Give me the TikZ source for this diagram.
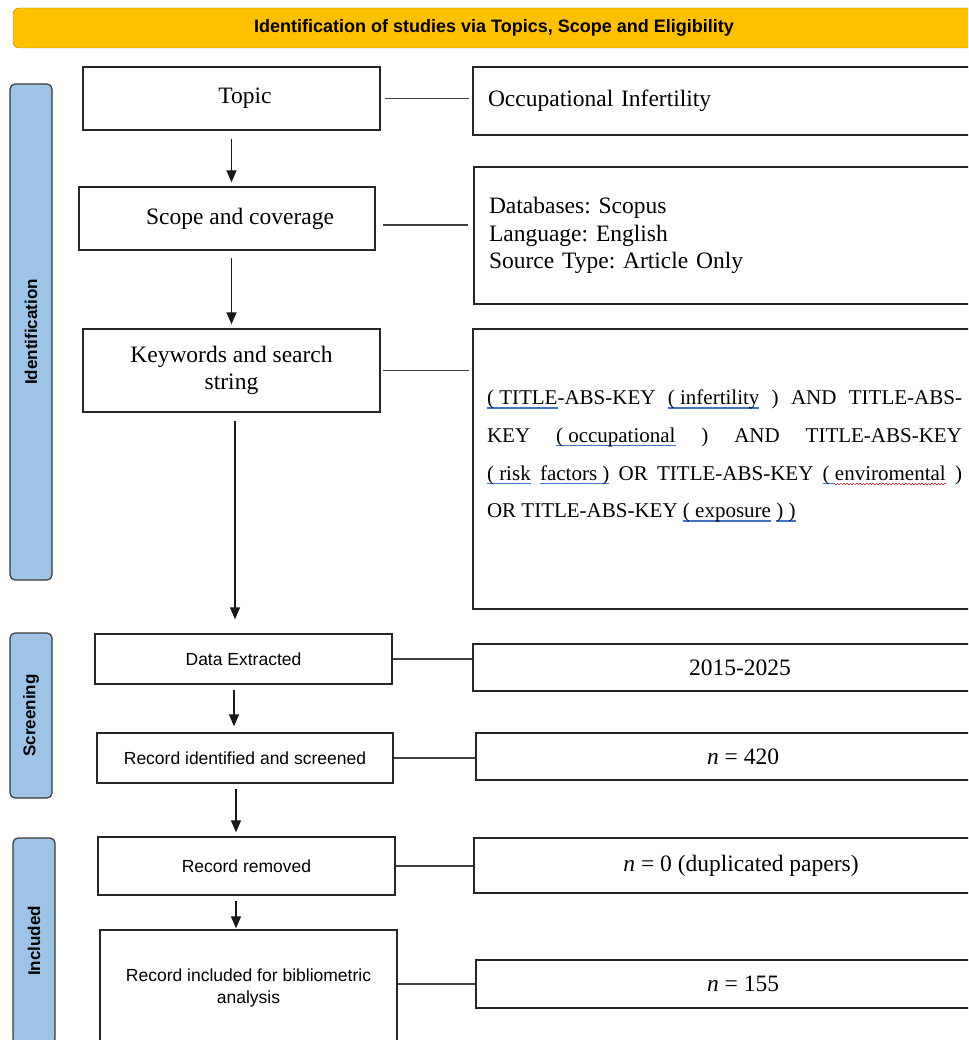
\documentclass[tikz,border=0pt]{standalone}
\usepackage{fontspec}
\setmainfont{Liberation Serif}
\setsansfont{Liberation Sans}
\usetikzlibrary{arrows.meta}
\definecolor{hdrgold}{HTML}{FFC000}
\definecolor{hdredge}{HTML}{9C8440}
\definecolor{barblue}{HTML}{9DC3E6}
\definecolor{baredge}{HTML}{3A3A3A}
\definecolor{ulblue}{HTML}{4472C4}
\definecolor{wavered}{HTML}{E03030}
\newsavebox{\ulbox}
\newcommand{\bul}[1]{\sbox{\ulbox}{#1}\rlap{\textcolor{ulblue}{\rule[-4pt]{\wd\ulbox}{1.4pt}}}\usebox{\ulbox}}
\newcommand{\rwv}[1]{\sbox{\ulbox}{#1}\rlap{\textcolor{wavered}{\hbox to\wd\ulbox{\xleaders\hbox{\rule[-5pt]{1.6pt}{1pt}\rule[-4pt]{1.6pt}{1pt}}\hfil}}}\usebox{\ulbox}}
\frenchspacing

\begin{document}
\begin{tikzpicture}[x=1pt,y=-1pt,
    box/.style={draw=black!85,line width=1.3pt,minimum width=297pt,inner sep=0pt,
        font=\fontsize{23.5}{27.5}\selectfont,align=center},
    sbox/.style={box,font=\sffamily\fontsize{17.5}{22}\selectfont},
    rbox/.style={draw=black!85,line width=1.3pt,minimum width=534pt,inner sep=0pt,
        font=\fontsize{23.5}{27.5}\selectfont},
    bar/.style={draw=baredge,line width=1.2pt,fill=barblue,rounded corners=5pt,rotate=90,
        minimum height=42pt,inner sep=0pt,font=\sffamily\bfseries\fontsize{17}{20}\selectfont},
    arr/.style={-{Triangle[length=12pt,width=10pt]},line width=1.3pt,draw=black!90},
    link/.style={line width=1.3pt,draw=black!75}]
    \useasboundingbox(0,0)rectangle(968,1040);
    \clip(0,0)rectangle(968,1040);
    \fill[white](0,0)rectangle(968,1040);

    \node[draw=hdredge,fill=hdrgold,rounded corners=6pt,minimum width=962pt,minimum height=40pt,
        font=\sffamily\bfseries\fontsize{18}{20}\selectfont](head)at(494,28)
        {Identification of studies via Topics, Scope and Eligibility};

    \node[bar,minimum width=496pt](idbar)at(31,332){Identification};
    \node[bar,minimum width=165pt](scbar)at(31,715.5){Screening};
    \node[bar,minimum width=206pt](inbar)at(34,941){Included};

    \node[box,minimum height=63pt](topic)at(231.5,98.5){\hspace*{27pt}Topic};
    \node[box,minimum width=296pt,minimum height=63pt](scope)at(227,218.5){\hspace*{26pt}Scope and coverage};
    \node[box,minimum height=83pt](kw)at(231.5,370.5){Keywords and search\\string};
    \node[sbox,minimum height=50pt](data)at(243.5,659){Data Extracted};
    \node[sbox,minimum width=296pt,minimum height=50pt](ident)at(245,758){Record identified and screened};
    \node[sbox,minimum height=58pt](removed)at(246.5,866){Record removed};
    \node[sbox,minimum height=115pt](incl)at(248.5,987.5){Record included for bibliometric\\analysis};

    \node[rbox,minimum height=68pt,text width=504pt,inner xsep=15pt,align=left](occ)at(740,101)
        {Occupational Infertility};
    \node[rbox,minimum height=137pt,text width=504pt,inner xsep=14pt,align=left](dbs)at(741,235.5)
        {Databases: Scopus\\Language: English\\Source Type: Article Only};
    \node[rbox,minimum height=280pt](sbox)at(740,469){};
    \node[text width=475pt,align=justify,inner sep=0pt,font=\fontsize{21}{37.7}\selectfont](stxt)at(724.5,456)
        {\bul{( TITLE}-ABS-KEY \bul{( infertility} ) AND TITLE-ABS-\linebreak
        KEY \bul{( occupational} ) AND TITLE-ABS-KEY\linebreak
        \bul{( risk} \bul{factors )} OR TITLE-ABS-KEY \bul{(\ }\rwv{enviromental} )\linebreak
        OR TITLE-ABS-KEY \bul{( exposure} \bul{) )}};
    \node[rbox,minimum height=47pt](years)at(740,667.5){2015-2025};
    \node[rbox,minimum height=47pt](n420)at(743,756.5){\textit{n} = 420};
    \node[rbox,minimum height=55pt](nzero)at(741,865.5){\textit{n} = 0 (duplicated papers)};
    \node[rbox,minimum height=48pt](n155)at(743,984){\textit{n} = 155};

    \draw[link,shorten <=4pt,shorten >=3pt](topic)--(topic-|occ.west);
    \draw[link,shorten <=7pt,shorten >=5pt]([yshift=-6.5pt]scope.east)--([yshift=-6.5pt]scope.east-|dbs.west);
    \draw[link,shorten <=2pt,shorten >=3pt](kw)--(kw-|sbox.west);
    \draw[link](data)--(data-|years.west);
    \draw[link](ident)--(ident-|n420.west);
    \draw[link](removed)--(removed-|nzero.west);
    \draw[link](incl.east|-n155)--(n155);

    \draw[arr,shorten <=8pt,shorten >=4pt](topic.south)--(topic.south|-scope.north);
    \draw[arr,shorten <=7pt,shorten >=4pt](kw.north|-scope.south)--(kw.north);
    \draw[arr,shorten <=8pt,shorten >=14pt]([xshift=3.5pt]kw.south)--([xshift=3.5pt]kw.south|-data.north);
    \draw[arr,shorten <=5pt,shorten >=6pt]([xshift=-9.5pt]data.south)--([xshift=-9.5pt]data.south|-ident.north);
    \draw[arr,shorten <=5pt,shorten >=4pt]([xshift=-9pt]ident.south)--([xshift=-9pt]ident.south|-removed.north);
    \draw[arr,shorten <=5pt,shorten >=1pt]([xshift=-10.5pt]removed.south)--([xshift=-10.5pt]removed.south|-incl.north);
\end{tikzpicture}
\end{document}
